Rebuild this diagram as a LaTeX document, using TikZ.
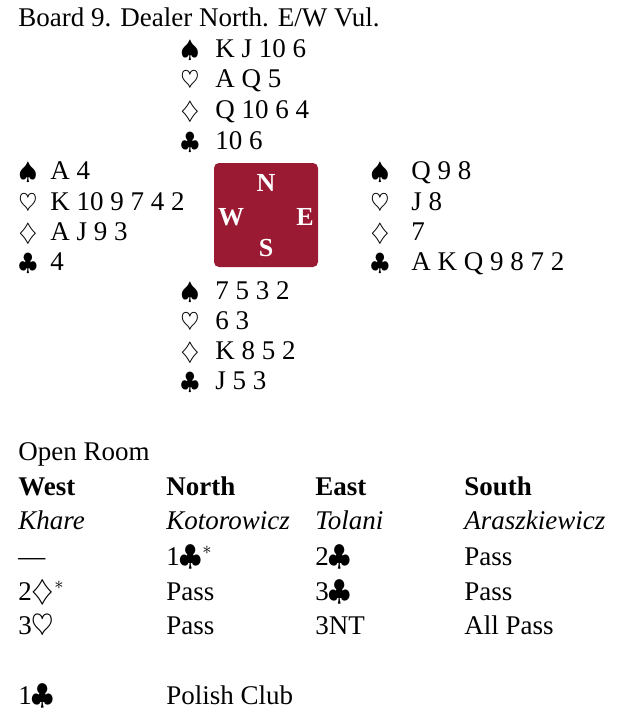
\documentclass[tikz,border=0pt]{standalone}
\usepackage{fontspec}
\setmainfont{Liberation Serif}
\usetikzlibrary{positioning}
\definecolor{BoardRed}{HTML}{9B1A33}
\tikzset{
  every picture/.style={x=0.5pt,y=-0.5pt},
  txt/.style={anchor=base west, inner sep=0pt, font=\fontsize{13.5}{16}\selectfont},
  suit/.style={anchor=base, inner sep=0pt, font=\fontsize{12.5}{15}\selectfont},
  hdr/.style={txt, font=\fontsize{13.5}{16}\selectfont\bfseries},
  player/.style={txt, font=\fontsize{13.5}{16}\selectfont\itshape},
  boardbox/.style={fill=BoardRed, rounded corners=2.5pt,
    minimum width=52pt, minimum height=52pt, inner sep=0pt},
  seat/.style={text=white, inner sep=0pt, font=\fontsize{13}{15}\selectfont\bfseries}
}

\begin{document}
\begin{tikzpicture}
  \useasboundingbox (0,0) rectangle (633,717);

  \node[txt] (title) at (18,27) {Board 9. Dealer North. E/W Vul.};

  % north
  \node[suit] (ns) at (190,58) {$\spadesuit$};
  \node[txt]  (nsc) at (215,58) {K J 10 6};
  \node[suit] (nh) at (190,88) {$\heartsuit$};
  \node[txt]  (nhc) at (215,88) {A Q 5};
  \node[suit] (nd) at (190,119) {$\diamondsuit$};
  \node[txt]  (ndc) at (215,119) {Q 10 6 4};
  \node[suit] (nc) at (190,149) {$\clubsuit$};
  \node[txt]  (ncc) at (215,149) {10 6};

  % west
  \node[suit] (ws) at (28,179) {$\spadesuit$};
  \node[txt]  (wsc) at (50,179) {A 4};
  \node[suit] (wh) at (28,210) {$\heartsuit$};
  \node[txt]  (whc) at (50,210) {K 10 9 7 4 2};
  \node[suit] (wd) at (28,240) {$\diamondsuit$};
  \node[txt]  (wdc) at (50,240) {A J 9 3};
  \node[suit] (wc) at (28,270) {$\clubsuit$};
  \node[txt]  (wcc) at (50,270) {4};

  % east
  \node[suit] (es) at (380,179) {$\spadesuit$};
  \node[txt]  (esc) at (411,179) {Q 9 8};
  \node[suit] (eh) at (380,210) {$\heartsuit$};
  \node[txt]  (ehc) at (411,210) {J 8};
  \node[suit] (ed) at (380,240) {$\diamondsuit$};
  \node[txt]  (edc) at (411,240) {7};
  \node[suit] (ec) at (380,270) {$\clubsuit$};
  \node[txt]  (ecc) at (411,270) {A K Q 9 8 7 2};

  % south
  \node[suit] (ss) at (190,299) {$\spadesuit$};
  \node[txt]  (ssc) at (215,299) {7 5 3 2};
  \node[suit] (sh) at (190,329) {$\heartsuit$};
  \node[txt]  (shc) at (215,329) {6 3};
  \node[suit] (sd) at (190,359) {$\diamondsuit$};
  \node[txt]  (sdc) at (215,359) {K 8 5 2};
  \node[suit] (sc) at (190,389) {$\clubsuit$};
  \node[txt]  (scc) at (215,389) {J 5 3};

  % table
  \node[boardbox] (board) at (266,215) {};
  \node[seat] (seatN) at (266,183) {N};
  \node[seat] (seatW) at (231,217) {W};
  \node[seat] (seatE) at (305,217) {E};
  \node[seat] (seatS) at (266,248) {S};

  % bidding
  \node[txt] (room) at (18,460) {Open Room};
  \node[hdr] (hW) at (18,495) {West};
  \node[hdr] (hN) at (166,495) {North};
  \node[hdr] (hE) at (315,495) {East};
  \node[hdr] (hS) at (464,495) {South};
  \node[player] (pW) at (18,529) {Khare};
  \node[player] (pN) at (166,529) {Kotorowicz};
  \node[player] (pE) at (315,529) {Tolani};
  \node[player] (pS) at (464,529) {Araszkiewicz};

  \node[txt] (b1W) at (18,565) {---};
  \node[txt] (b1N) at (166,565) {1$\clubsuit^{*}$};
  \node[txt] (b1E) at (315,565) {2$\clubsuit$};
  \node[txt] (b1S) at (464,565) {Pass};
  \node[txt] (b2W) at (18,600) {2$\diamondsuit^{*}$};
  \node[txt] (b2N) at (166,600) {Pass};
  \node[txt] (b2E) at (315,600) {3$\clubsuit$};
  \node[txt] (b2S) at (464,600) {Pass};
  \node[txt] (b3W) at (18,634) {3$\heartsuit$};
  \node[txt] (b3N) at (166,634) {Pass};
  \node[txt] (b3E) at (315,634) {3NT};
  \node[txt] (b3S) at (464,634) {All Pass};

  \node[txt] (noteK) at (18,704) {1$\clubsuit$};
  \node[txt] (noteT) at (166,704) {Polish Club};
\end{tikzpicture}
\end{document}
